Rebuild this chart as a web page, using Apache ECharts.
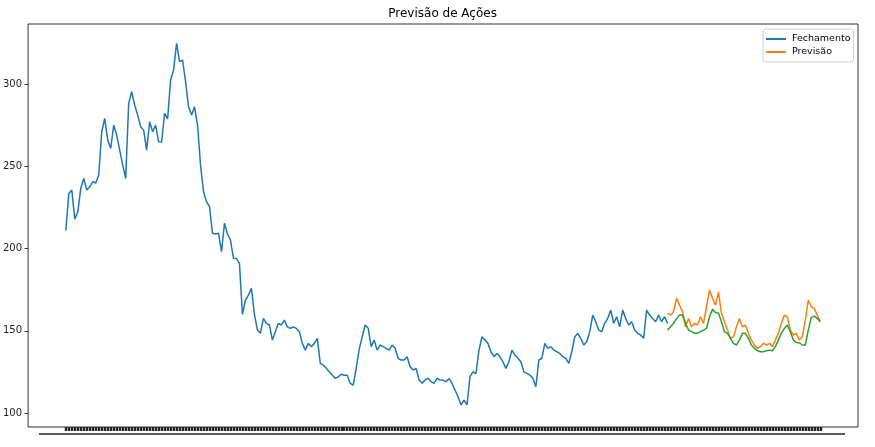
<!DOCTYPE html>
<html>
<head>
<meta charset="utf-8">
<script src="https://cdn.jsdelivr.net/npm/echarts@6/dist/echarts.min.js"></script>
<style>html,body{margin:0;padding:0;background:#fff}#c{width:875px;height:447px}</style>
</head>
<body>
<div id="c"></div>
<script>
// Closing price (Fechamento), one value per step
const closeValues = [
211,233.7,235.7,218,222.5,236.8,242.8,235.7,237.7,240.8,
240,244.9,271.2,279.3,266.2,261.1,275.3,269.2,260,251,
242.8,288.5,295.6,287.5,281.4,274.3,272.2,260,277.3,271.2,
275.3,265.1,265,282.4,279,302.7,308.8,325,313.9,314.9,
301.7,286.4,281.4,286.4,275.3,251,234.7,228.6,225.6,209.4,
209,209.4,198.2,215.5,209,205.3,194.2,194,191.1,160,
168.8,171.8,175.9,160,150.5,148.5,157.6,154.6,153.6,144.4,
149.5,154.6,153.6,156.6,152.5,151.5,152.5,151.5,149.5,142.4,
138.3,142.4,140.4,142.4,145.5,130.2,129.2,127.2,125.1,123.1,
121.1,122,123.6,123,123,118,117,127.2,139,146.4,
153.6,151.6,140.4,144.4,138.3,141.4,140.4,139.4,138.3,141.4,
139.4,133.3,132.3,132.3,134.3,128.2,126.2,127.2,120.1,118.1,
120.1,121.1,119.1,118.1,121.1,120.1,120,119,121,118,
114,109.9,104.9,107.9,104.9,122.1,125.1,124,138.3,146.4,
144.4,142.4,137.3,134.3,136.3,134.3,131.2,127.2,131.2,138.3,
135.3,133.3,131.2,125.1,124.1,123.1,121.1,116,132.3,133.3,
142.4,139.4,140.4,138.3,137.3,136.3,134.3,133.3,130.2,137.3,
146.4,148.4,145.5,141.4,143.4,149.5,159.6,155.6,150.5,149.5,
154.6,157.6,162.7,154.6,158.6,152.5,162.7,157.6,153.6,155.6,
150.5,148.5,147.5,145.5,162.7,159.6,157.6,155.6,159.6,155.6,
158.6,154.6
];
// Forecast (Previsão), starts at the last closing step
const predValues = [
160.7,159.6,161.7,169.8,165.7,161.7,152.5,157.6,152.5,154.6,
153.6,158.6,154.6,164.7,174.9,169.8,165.7,173.8,160.7,155.6,
150.5,145.5,146.4,152.5,157.6,152.5,153.6,148.5,144.4,141.4,
139.4,140.4,142.4,141.4,142.4,140.4,144.4,148.5,154.6,159.6,
158.6,150.5,147.5,148.5,144.4,146.4,156.6,168.8,164.7,163.7,
159.6,155.6
];
// Third (unlabelled) series, same steps as the forecast
const greenValues = [
150.5,152.5,154.6,157.6,159.6,159.6,154.6,150.5,149.5,148.5,
148.5,149.5,150.5,151.5,158.6,163.1,161.2,160.7,155.6,149.5,
148.5,145.5,142.4,141.4,144.4,148.5,148.5,145.5,141.4,139.4,
137.9,137.3,137.3,137.9,138.3,137.9,140.4,144.4,148.5,151.5,
153.6,149.5,144.4,143.0,142.8,141.4,141.4,150.5,158.2,159,
157.6,155.6
];
const yTicks = [100,150,200,250,300];

const predStart = closeValues.length - 1;
const total = predStart + predValues.length;
const closeData = closeValues.map((v,i)=>[i,v]);
const predData = predValues.map((v,i)=>[predStart+i,v]);
const greenData = greenValues.map((v,i)=>[predStart+i,v]);
const xTickValues = [];
for (let i = 0; i < total; i++) xTickValues.push(i);
const span = total - 1;

const font = 'DejaVu Sans';
const chart = echarts.init(document.getElementById('c'), null, {renderer:'canvas'});
chart.setOption({
  animation:false,
  backgroundColor:'#fff',
  title:{text:'Previsão de Ações', left:442.6, textAlign:'center', top:8, padding:0,
    textStyle:{fontFamily:font, fontSize:12, fontWeight:'normal', color:'#000'}},
  legend:{data:['Fechamento','Previsão'], orient:'vertical', left:763, top:29,
    padding:[5,3,5,3], itemGap:3, itemWidth:20, itemHeight:2, icon:'rect',
    borderColor:'#d0d0d0', borderWidth:1, borderRadius:3, backgroundColor:'#fff',
    textStyle:{fontFamily:font, fontSize:9.5, color:'#000', padding:[0,0,0,1]}},
  grid:{left:27, right:17, top:24, bottom:20, show:true, borderColor:'#333', borderWidth:1},
  xAxis:{type:'value', min:-0.05*span, max:span*1.05,
    axisLine:{show:false, onZero:false}, splitLine:{show:false},
    axisTick:{show:true, length:4, customValues:xTickValues, lineStyle:{color:'#222', width:2.4}},
    axisLabel:{show:false}},
  yAxis:{type:'value', min:91.5, max:336.8,
    axisLine:{show:false, onZero:false}, splitLine:{show:false},
    axisTick:{show:true, length:3.5, customValues:yTicks, lineStyle:{color:'#333', width:1}},
    axisLabel:{customValues:yTicks, margin:6, fontFamily:font, fontSize:10, color:'#222'}},
  graphic:[{type:'rect', shape:{x:39, y:433.3, width:806, height:1.4}, style:{fill:'#222'}, silent:true}],
  series:[
    {name:'Fechamento', type:'line', data:closeData, showSymbol:false, color:'#1f77b4',
      lineStyle:{width:1.5, color:'#1f77b4'}},
    {name:'Previsão', type:'line', data:predData, showSymbol:false, color:'#ff7f0e',
      lineStyle:{width:1.5, color:'#ff7f0e'}},
    {name:'Tendência', type:'line', data:greenData, showSymbol:false, color:'#2ca02c',
      lineStyle:{width:1.5, color:'#2ca02c'}}
  ]
});
</script>
</body>
</html>
